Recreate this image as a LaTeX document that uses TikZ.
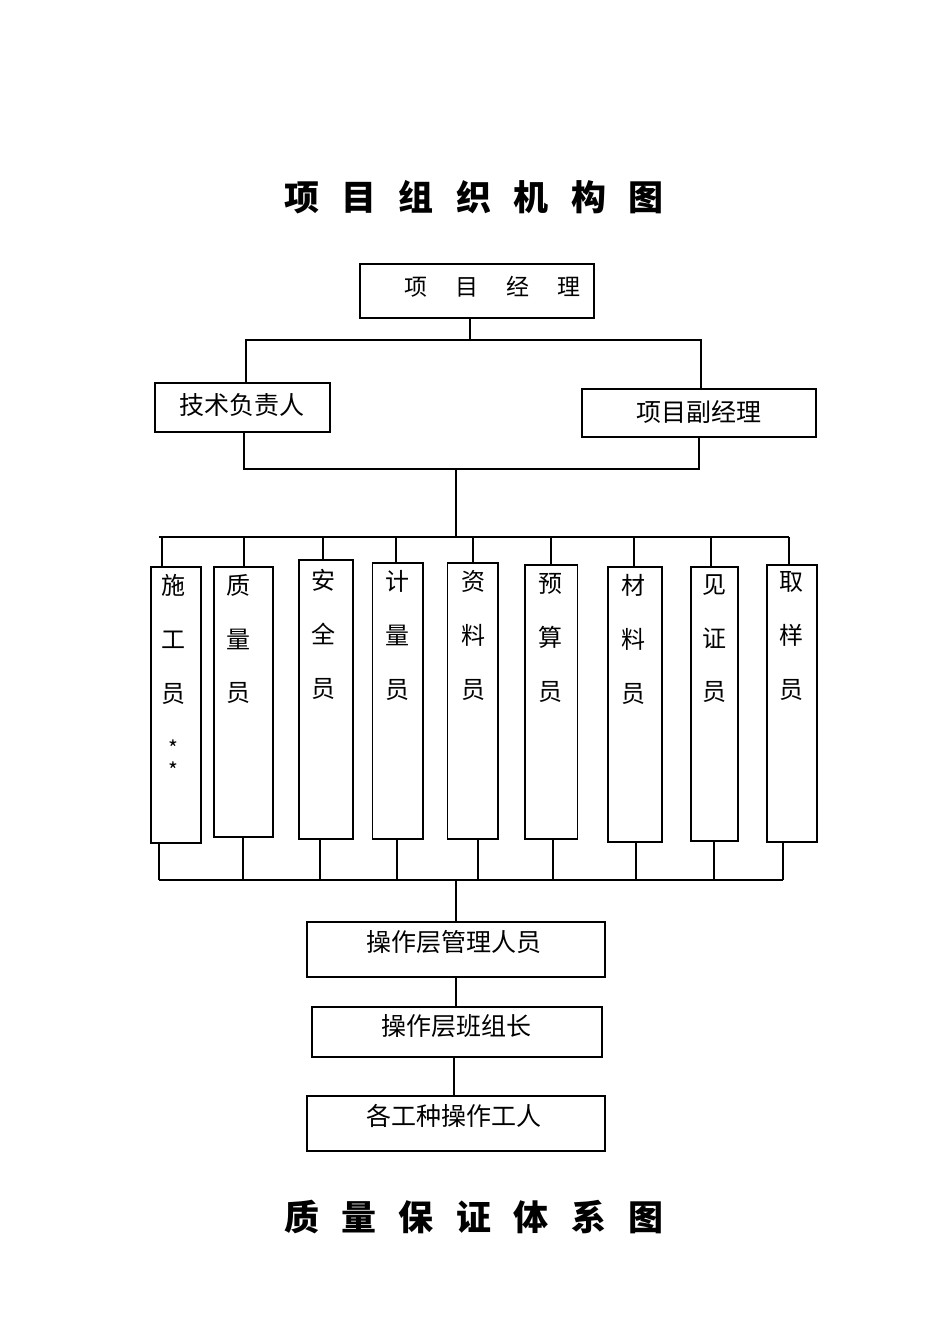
\documentclass[tikz,border=0pt]{standalone}
\usepackage{fontspec}
\usepackage{tikz}
\newfontfamily\cjk{Noto Sans CJK SC}
\newcommand{\tgap}{\hspace{22.5pt}}
\tikzset{
  orgbox/.style = {draw, line width=1.3pt, inner sep=0pt, outer sep=0pt},% frame only
  lbl/.style = {inner sep=0pt, font=\cjk\fontsize{25}{25}\selectfont},% horizontal label
  vlbl/.style = {inner sep=0pt, anchor=north, align=center,
    font=\cjk\fontsize{24}{53.7}\selectfont},% vertical label, one char per line
  ttl/.style = {inner sep=0pt, font=\cjk\bfseries\fontsize{35}{35}\selectfont}% page title
}
\begin{document}
\begin{tikzpicture}[x=1pt,y=-1pt,line width=1.3pt]
\useasboundingbox (0,0) rectangle (950,1344);
\node [ttl] (T1) at (474,197) {项\tgap 目\tgap 组\tgap 织\tgap 机\tgap 构\tgap 图};

% top level
\node [orgbox, minimum width=234, minimum height=54] (pm) at (477,291) {};
\node [lbl, font=\cjk\fontsize{23}{23}\selectfont] (pmtxt) at (492.6,287)
  {项\hspace{28pt}目\hspace{28pt}经\hspace{28pt}理};
\node [orgbox, minimum width=175, minimum height=49] (tech) at (242.5,407.5) {};
\node [lbl] (techtxt) at (242,405) {技术负责人};
\node [orgbox, minimum width=234, minimum height=48] (dpm) at (699,413) {};
\node [lbl] (dpmtxt) at (699,412.5) {项目副经理};

\coordinate (a1) at (470,340);
\coordinate (a2) at (246,340);
\coordinate (a3) at (701,340);
\draw (pm.south -| a1) -- (a1);
\draw (a2 |- tech.north) -- (a2) -- (a3) -- (a3 |- dpm.north);
\coordinate (b1) at (244,469);
\coordinate (b2) at (699,469);
\coordinate (b3) at (456,469);
\draw (tech.south -| b1) -- (b1) -- (b2) -- (dpm.south -| b2);

% staff row
\node [orgbox, minimum width=50, minimum height=276] (s1) at (176,705) {};
\node [orgbox, minimum width=59, minimum height=270] (s2) at (243.5,702) {};
\node [orgbox, minimum width=54, minimum height=279] (s3) at (326,699.5) {};
\node [orgbox, minimum width=50.5, minimum height=276] (s4) at (397.75,701) {};
\node [orgbox, minimum width=50.5, minimum height=276] (s5) at (472.75,701) {};
\node [orgbox, minimum width=52.5, minimum height=274] (s6) at (551.25,702) {};
\node [orgbox, minimum width=54, minimum height=275] (s7) at (635,704.5) {};
\node [orgbox, minimum width=47, minimum height=274] (s8) at (714.5,704) {};
\node [orgbox, minimum width=50, minimum height=277] (s9) at (792,703.5) {};

\node [vlbl] (s1txt) at (173.5,573.8) {施\\工\\员};
\node [vlbl, font=\cjk\fontsize{21}{22}\selectfont] (s1star) at (173.5,739) {*\\*};
\node [vlbl] (s2txt) at (238,573.8) {质\\量\\员};
\node [vlbl] (s3txt) at (323,569) {安\\全\\员};
\node [vlbl] (s4txt) at (397.7,570) {计\\量\\员};
\node [vlbl] (s5txt) at (473,570) {资\\料\\员};
\node [vlbl] (s6txt) at (550.6,573) {预\\算\\员};
\node [vlbl] (s7txt) at (633,574) {材\\料\\员};
\node [vlbl] (s8txt) at (714,574) {见\\证\\员};
\node [vlbl] (s9txt) at (791,571) {取\\样\\员};

\coordinate (c0) at (456,537);
\coordinate (c1) at (159,537);
\coordinate (c2) at (789,537);
\draw (b3) -- (c0);
\draw (c1) -- (c2);
\coordinate (t1) at (162,537);
\coordinate (t2) at (244,537);
\coordinate (t3) at (323,537);
\coordinate (t4) at (396,537);
\coordinate (t5) at (473,537);
\coordinate (t6) at (551,537);
\coordinate (t7) at (634,537);
\coordinate (t8) at (711,537);
\coordinate (t9) at (789,537);
\draw (t1) -- (t1 |- s1.north);
\draw (t2) -- (t2 |- s2.north);
\draw (t3) -- (t3 |- s3.north);
\draw (t4) -- (t4 |- s4.north);
\draw (t5) -- (t5 |- s5.north);
\draw (t6) -- (t6 |- s6.north);
\draw (t7) -- (t7 |- s7.north);
\draw (t8) -- (t8 |- s8.north);
\draw (t9) -- (t9 |- s9.north);

\coordinate (d0) at (456,880);
\coordinate (d1) at (159,880);
\coordinate (d2) at (783,880);
\draw (d1) -- (d2);
\coordinate (u1) at (159,880);
\coordinate (u2) at (243,880);
\coordinate (u3) at (320,880);
\coordinate (u4) at (397,880);
\coordinate (u5) at (478,880);
\coordinate (u6) at (553,880);
\coordinate (u7) at (636,880);
\coordinate (u8) at (714,880);
\coordinate (u9) at (783,880);
\draw (u1 |- s1.south) -- (u1);
\draw (u2 |- s2.south) -- (u2);
\draw (u3 |- s3.south) -- (u3);
\draw (u4 |- s4.south) -- (u4);
\draw (u5 |- s5.south) -- (u5);
\draw (u6 |- s6.south) -- (u6);
\draw (u7 |- s7.south) -- (u7);
\draw (u8 |- s8.south) -- (u8);
\draw (u9 |- s9.south) -- (u9);

% operating level
\node [orgbox, minimum width=298, minimum height=55] (opm) at (456,949.5) {};
\node [lbl] (opmtxt) at (454,942.5) {操作层管理人员};
\node [orgbox, minimum width=290, minimum height=50] (grp) at (457,1032) {};
\node [lbl] (grptxt) at (456,1026) {操作层班组长};
\node [orgbox, minimum width=298, minimum height=55] (wrk) at (456,1123.5) {};
\node [lbl] (wrktxt) at (454,1116) {各工种操作工人};
\coordinate (e0) at (454,1076);
\draw (d0) -- (d0 |- opm.north);
\draw (opm.south -| d0) -- (grp.north -| d0);
\draw (grp.south -| e0) -- (wrk.north -| e0);

\node [ttl] (T2) at (474,1217) {质\tgap 量\tgap 保\tgap 证\tgap 体\tgap 系\tgap 图};
\end{tikzpicture}
\end{document}
